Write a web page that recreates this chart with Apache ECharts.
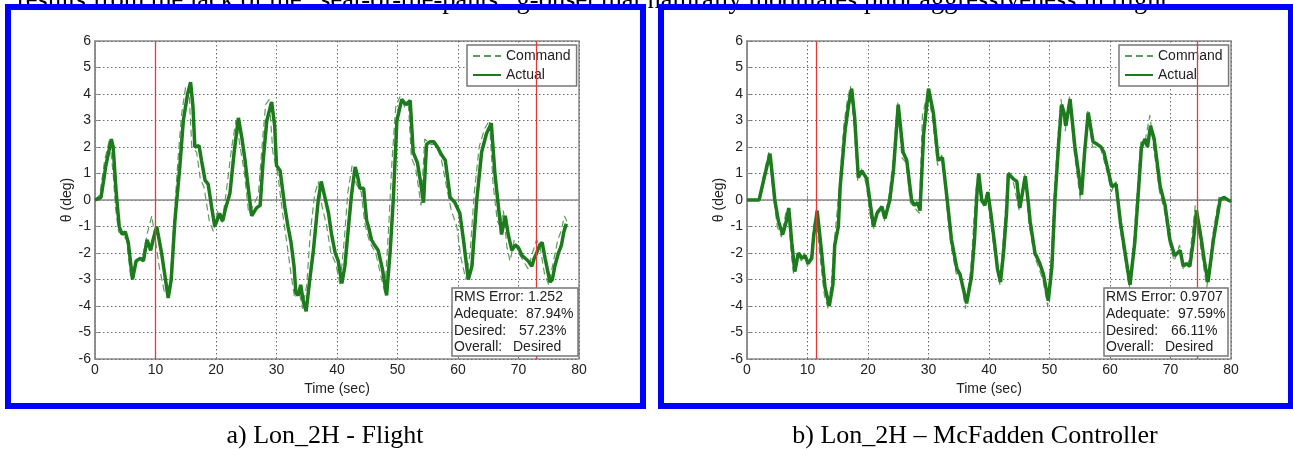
<!DOCTYPE html>
<html>
<head>
<meta charset="utf-8">
<script src="https://cdn.jsdelivr.net/npm/echarts@6/dist/echarts.min.js"></script>
<style>
html,body{margin:0;padding:0;background:#fff;}
#chart{width:1293px;height:449px;}
</style>
</head>
<body>
<div id="chart"></div>
<script>
// ---------- DATA ----------
const yTicks = [-6, -5, -4, -3, -2, -1, 0, 1, 2, 3, 4, 5, 6];
const xTicks = [0, 10, 20, 30, 40, 50, 60, 70, 80];

// Panel a) Lon_2H - Flight
const aActualT = [0,1.0,1.8,2.7,3.0,3.5,4.0,4.5,5.0,5.5,6.2,6.8,7.5,8.0,8.6,9.2,9.6,10.2,11.0,12.1,12.6,13.2,14.0,14.6,15.3,15.8,16.2,16.5,17.2,17.6,18.2,18.7,19.3,19.8,20.6,21.1,21.6,22.3,23.0,23.7,24.3,24.8,25.3,25.9,26.7,27.3,27.8,28.4,29.2,29.7,30.0,30.6,31.4,31.9,32.4,32.9,33.2,33.6,34.0,34.4,34.9,35.5,36.1,36.9,37.4,37.8,38.2,38.6,39.1,39.7,40.2,40.8,41.3,41.9,42.4,43.0,43.4,43.8,44.4,44.9,45.2,45.7,46.2,46.8,47.5,48.2,48.8,49.3,49.9,50.7,51.4,52.1,52.6,53.3,53.8,54.3,54.8,55.4,56.0,56.6,57.3,57.9,58.7,59.5,60.3,60.9,61.7,62.3,63.1,63.9,64.7,65.5,66.1,66.7,67.2,67.8,68.3,68.9,69.5,70.0,70.6,71.1,71.6,72.2,72.6,73.0,73.5,73.9,74.4,75.2,75.6,76.0,76.6,77.1,77.5,77.9];
const aActualV = [0,0.1,1.3,2.3,2.0,0.3,-1.0,-1.3,-1.2,-1.6,-3.0,-2.3,-2.2,-2.3,-1.5,-1.9,-1.5,-1.0,-2.0,-3.7,-3.0,-0.8,1.2,3.0,4.0,4.45,3.5,2.0,2.05,1.5,0.74,0.6,-0.3,-1.0,-0.5,-0.8,-0.3,0.25,1.8,3.1,2.3,1.5,0.5,-0.6,-0.3,-0.2,1.5,3.0,3.7,2.8,1.3,1.1,-0.3,-1.0,-1.6,-2.5,-3.5,-3.6,-3.2,-3.8,-4.2,-3.0,-1.9,0.0,0.7,0.3,-0.1,-0.5,-1.3,-2.0,-2.3,-3.15,-2.5,-1.0,0.2,1.25,0.9,0.44,0.44,-0.77,-1.0,-1.5,-1.7,-1.9,-2.6,-3.6,-1.9,0.0,3.0,3.8,3.6,3.75,1.8,1.4,0.7,-0.1,2.1,2.2,2.2,2.0,1.7,1.5,0.1,-0.1,-0.5,-1.5,-3.0,-2.5,0.0,1.8,2.5,2.9,1.0,-0.3,-1.3,-0.6,-1.3,-1.9,-1.7,-1.8,-2.1,-2.2,-2.3,-2.5,-2.2,-2.0,-1.7,-1.6,-2.2,-3.1,-3.0,-2.5,-2.0,-1.7,-1.2,-0.9];
const aCommandT = [0,0.8,1.6,2.4,3.0,3.4,3.9,4.5,5.2,5.9,6.5,7.3,8.0,8.7,9.4,9.9,10.6,11.5,12.4,13.0,13.7,14.3,15.0,15.5,16.0,16.8,17.4,18.0,18.9,19.6,20.3,21.0,21.8,22.6,23.3,24.0,24.7,25.4,26.2,27.0,27.6,28.2,28.8,29.4,30.2,31.0,31.7,32.4,33.0,33.7,34.3,35.0,35.6,36.3,36.9,37.5,38.3,39.0,39.8,40.5,41.2,41.8,42.5,43.2,44.0,44.6,45.4,46.4,47.2,47.9,48.5,49.1,49.7,50.4,51.2,51.8,52.3,53.0,53.9,54.5,55.5,56.3,57.2,58.1,58.9,59.8,60.5,61.3,62.0,62.7,63.5,64.4,65.2,65.8,66.5,67.0,67.5,68.1,68.6,69.3,70.0,70.8,71.6,72.3,73.0,73.6,74.3,75.0,75.7,76.5,77.0,77.6,78.0];
const aCommandV = [0,0.2,1.5,2.3,1.0,-0.3,-1.2,-1.3,-1.5,-2.9,-2.4,-2.2,-2.0,-1.2,-0.6,-1.4,-2.5,-3.5,-3.2,-1.0,1.5,3.2,4.3,4.3,2.0,1.8,0.8,0.5,-0.8,-1.2,-0.4,-0.9,0.5,2.0,3.0,2.0,1.0,-0.5,-0.2,0.2,2.0,3.6,3.8,1.8,1.0,-0.5,-1.6,-2.8,-3.7,-3.4,-4.1,-3.2,-1.2,0.2,0.7,-0.2,-1.0,-2.0,-2.4,-3.2,-1.5,0.3,1.3,0.6,0.3,-0.9,-1.6,-2.0,-2.8,-3.5,-1.2,1.5,3.5,3.9,3.5,3.6,1.6,1.2,-0.2,2.3,2.1,2.1,1.6,0.5,-0.4,-1.0,-2.2,-3.0,-2.0,0.3,2.0,2.7,3.0,0.6,-0.8,-1.0,-0.4,-1.8,-2.3,-1.5,-2.0,-2.3,-2.6,-2.0,-1.5,-1.8,-2.8,-3.2,-2.4,-1.5,-1.2,-0.6,-0.8];
const aMarkers = [10, 73];
const aStats = [["RMS Error: 1.252", ""], ["Adequate:", "87.94%"], ["Desired:", "57.23%"], ["Overall:", "Desired"]];
const aCaption = "a) Lon_2H - Flight";

// Panel b) Lon_2H – McFadden Controller
const bActualT = [0,2.0,2.8,3.8,4.2,4.6,5.2,5.9,6.5,6.9,7.4,7.9,8.5,9.1,9.6,10.1,10.7,11.0,11.6,12.3,12.9,13.6,14.2,14.5,15.1,15.4,16.2,16.8,17.3,17.8,18.4,19.0,19.8,20.6,20.9,21.5,22.3,22.8,23.6,24.2,25.0,25.8,26.4,27.2,27.7,28.2,28.6,29.2,30.0,30.8,31.6,32.3,33.0,33.8,34.7,35.2,36.3,37.1,37.6,38.0,38.3,38.8,39.3,39.8,40.3,40.9,41.4,41.9,42.4,42.9,43.2,43.6,44.0,44.6,45.1,46.0,46.5,46.8,47.6,48.4,49.0,49.8,50.4,50.9,51.5,52.0,52.4,52.7,53.4,54.2,55.3,55.8,56.4,57.2,57.9,58.5,59.0,59.7,60.3,61.0,61.7,62.5,63.3,64.1,64.6,65.2,65.8,66.2,66.7,67.3,67.8,68.3,69.1,69.9,70.7,71.6,72.1,72.6,73.2,73.8,74.3,75.1,75.6,76.2,77.1,78.2,78.8,79.5,80.0];
const bActualV = [0,0,0.8,1.75,0.9,0,-0.8,-1.3,-0.8,-0.3,-1.6,-2.7,-2.0,-2.2,-2.1,-2.4,-2.2,-1.4,-0.4,-1.9,-3.3,-4.0,-3.2,-1.7,-1.0,0.5,2.6,3.6,4.2,3.1,0.85,1.1,0.8,-0.5,-1.0,-0.5,-0.25,-0.7,0.0,1.1,3.6,1.8,1.5,0.0,-0.2,-0.1,-0.4,2.5,4.2,3.3,1.5,1.6,0.2,-1.5,-2.6,-2.8,-3.9,-2.9,-1.5,0.2,1.0,0.0,-0.2,0.3,-0.5,-1.6,-2.6,-3.1,-2.0,-0.5,1.0,0.9,0.8,0.7,-0.3,0.9,-0.1,-0.8,-2.0,-2.4,-2.8,-3.8,-2.5,0.0,2.1,3.6,3.3,2.8,3.8,2.0,0.2,1.8,3.3,2.2,2.1,2.0,1.8,1.1,0.5,0.6,-0.8,-2.0,-3.2,-1.6,0.0,2.0,2.3,2.0,2.8,2.3,1.4,0.5,-0.2,-1.5,-2.1,-1.9,-2.5,-2.4,-2.5,-1.5,-0.4,-1.5,-2.3,-3.1,-1.5,0.0,0.1,0.0,-0.05];
const bCommandT = [0,2.0,2.7,3.6,4.4,5.0,5.7,6.4,6.8,7.3,7.7,8.3,9.0,9.5,10.0,10.6,11.0,11.4,12.1,12.8,13.4,14.0,14.5,15.2,16.0,16.6,17.1,17.7,18.3,18.9,19.7,20.5,21.0,21.5,22.2,22.7,23.5,24.1,24.9,25.6,26.3,27.0,27.7,28.5,29.0,29.9,30.7,31.5,32.2,32.9,33.7,34.6,35.2,36.1,37.0,37.8,38.2,38.7,39.7,40.8,41.8,42.7,43.1,44.0,45.0,45.9,46.6,47.5,48.9,49.7,50.3,50.8,51.4,51.9,52.6,53.3,54.1,55.1,56.3,57.1,58.4,59.6,60.2,61.0,61.6,63.2,64.0,65.1,65.7,66.6,67.2,68.2,69.0,69.8,70.6,71.5,72.1,73.1,74.1,75.0,76.0,77.0,78.0,80.0];
const bCommandV = [0,0,0.9,1.8,0.1,-1.0,-1.4,-0.5,-0.4,-2.0,-2.8,-2.0,-2.3,-2.0,-2.5,-2.1,-1.0,-0.6,-2.2,-3.6,-4.1,-3.0,-1.4,0.3,2.8,3.8,4.3,2.8,0.7,1.2,0.6,-0.8,-1.1,-0.4,-0.3,-0.8,0.2,1.4,3.7,1.6,1.4,-0.1,-0.3,-0.5,3.2,4.1,3.0,1.3,1.7,0.0,-1.7,-2.8,-2.7,-4.1,-2.6,0.3,1.0,-0.1,0.2,-1.8,-3.2,-0.4,1.1,0.7,-0.4,1.0,-0.9,-2.1,-3.0,-4.0,-2.2,0.3,2.4,3.8,2.6,3.9,1.8,0.0,3.4,2.0,2.0,1.0,0.3,0.7,-1.0,-3.3,-1.3,2.2,2.1,3.2,2.0,0.3,-0.4,-1.6,-2.3,-1.7,-2.6,-2.3,-0.2,-1.8,-3.3,-1.3,0.1,0.0];
const bMarkers = [11.5, 74.4];
const bStats = [["RMS Error: 0.9707", ""], ["Adequate:", "97.59%"], ["Desired:", "66.11%"], ["Overall:", "Desired"]];
const bCaption = "b) Lon_2H \u2013 McFadden Controller";

const topText = "results from the lack of the \u201Cseat-of-the-pants\u201D g-onset that naturally modulates pilot aggressiveness in flight.";
const seriesNames = ["Command", "Actual"];
const yAxisTitle = "\u03B8 (deg)";
const xAxisTitle = "Time (sec)";

// ---------- BUILD ----------
const zip = (t, v) => t.map((x, i) => [x, v[i]]);
const SANS = "'Liberation Sans', Arial, sans-serif";
const SERIF = "'Liberation Serif', 'Times New Roman', serif";
const GREEN = '#1d7a1d';
const CMD = '#5a9e5a';

const grids = [
  { left: 95, top: 41, width: 484, height: 318 },
  { left: 747, top: 41, width: 484, height: 318 }
];

function xAx(i) {
  return {
    type: 'value', gridIndex: i, min: 0, max: 80, interval: 10,
    name: xAxisTitle, nameLocation: 'middle', nameGap: 21,
    nameTextStyle: { fontFamily: SANS, fontSize: 14, color: '#222' },
    axisLine: { show: true, lineStyle: { color: '#8a8a8a', width: 1.5 } },
    axisTick: { show: true, inside: true, length: 4, lineStyle: { color: '#8a8a8a' } },
    axisLabel: { margin: 4, fontFamily: SANS, fontSize: 14, color: '#222',
      formatter: v => xTicks.includes(v) ? String(v) : '' },
    splitLine: { show: true, lineStyle: { color: '#6a6a6a', width: 1, type: [1.5, 2.5] } }
  };
}
function yAx(i) {
  return {
    type: 'value', gridIndex: i, min: -6, max: 6, interval: 1,
    name: yAxisTitle, nameLocation: 'middle', nameGap: 21, nameRotate: 90,
    nameTextStyle: { fontFamily: SANS, fontSize: 14, color: '#222' },
    axisLine: { show: true, lineStyle: { color: '#8a8a8a', width: 1.5 } },
    axisTick: { show: true, inside: true, length: 4, lineStyle: { color: '#8a8a8a' } },
    axisLabel: { margin: 4, fontFamily: SANS, fontSize: 14, color: '#222',
      formatter: v => yTicks.includes(v) ? String(v) : '' },
    splitLine: { show: true, lineStyle: { color: '#6a6a6a', width: 1, type: [1.5, 2.5] } }
  };
}

function panelSeries(i, cmdT, cmdV, actT, actV, markers) {
  return [
    {
      name: seriesNames[0], type: 'line', xAxisIndex: i, yAxisIndex: i,
      data: zip(cmdT, cmdV), symbol: 'none', z: 2,
      lineStyle: { color: CMD, width: 1.2, type: [7, 4] }, itemStyle: { color: CMD },
      markLine: {
        silent: true, symbol: ['none', 'none'], label: { show: false },
        lineStyle: { color: '#e23a3a', width: 1.3, type: 'solid', opacity: 1 },
        data: markers.map(m => ({ xAxis: m }))
      }
    },
    {
      name: seriesNames[1], type: 'line', xAxisIndex: i, yAxisIndex: i,
      data: zip(actT, actV), symbol: 'none', z: 3,
      lineStyle: { color: GREEN, width: 3.5 }, itemStyle: { color: GREEN }
    }
  ];
}

function legendAt(left) {
  return {
    data: seriesNames, left: left, top: 45, orient: 'vertical',
    backgroundColor: '#fff', borderColor: '#777', borderWidth: 1.5,
    padding: [4, 6, 4, 5], itemGap: 5, itemWidth: 28, itemHeight: 14,
    selectedMode: false,
    itemStyle: { opacity: 0, borderWidth: 0 },
    textStyle: { fontFamily: SANS, fontSize: 14, color: '#222' }
  };
}

function statsBox(x, y, w, h, rows, valX) {
  const lineY = [297, 314.5, 331, 347];
  const children = [{
    type: 'rect', shape: { x: x, y: y, width: w, height: h },
    style: { fill: '#fff', stroke: '#777', lineWidth: 1.5 }, z: 10
  }];
  rows.forEach((r, k) => {
    children.push({ type: 'text', x: x + 2, y: lineY[k], z: 11,
      style: { text: r[0], font: '14px ' + SANS, fill: '#222', textVerticalAlign: 'middle' } });
    if (r[1]) children.push({ type: 'text', x: valX[k], y: lineY[k], z: 11,
      style: { text: r[1], font: '14px ' + SANS, fill: '#222', textVerticalAlign: 'middle' } });
  });
  return children;
}

const graphics = [
  { type: 'text', x: 17, y: -12, z: 1,
    style: { text: topText, font: '26.5px ' + SERIF, fill: '#000', textVerticalAlign: 'top' } },
  { type: 'rect', shape: { x: 8, y: 7, width: 635, height: 399 },
    style: { fill: 'none', stroke: '#0000fe', lineWidth: 6 }, z: 20 },
  { type: 'rect', shape: { x: 661, y: 7, width: 630, height: 399 },
    style: { fill: 'none', stroke: '#0000fe', lineWidth: 6 }, z: 20 },
  { type: 'text', x: 325, y: 423, z: 1,
    style: { text: aCaption, font: '26px ' + SERIF, fill: '#000', textAlign: 'center', textVerticalAlign: 'top' } },
  { type: 'text', x: 975, y: 423, z: 1,
    style: { text: bCaption, font: '26px ' + SERIF, fill: '#000', textAlign: 'center', textVerticalAlign: 'top' } }
].concat(statsBox(452, 288, 126, 68, aStats, [0, 526, 519, 513]))
 .concat(statsBox(1104, 288, 124, 68, bStats, [0, 1178, 1171, 1165]));

const chart = echarts.init(document.getElementById('chart'), null, { renderer: 'canvas' });
chart.setOption({
  animation: false,
  backgroundColor: '#fff',
  grid: grids.map(g => Object.assign({ show: true, borderColor: '#8a8a8a', borderWidth: 1.5, backgroundColor: '#fff' }, g)),
  xAxis: [xAx(0), xAx(1)],
  yAxis: [yAx(0), yAx(1)],
  legend: [legendAt(467), legendAt(1119)],
  series: panelSeries(0, aCommandT, aCommandV, aActualT, aActualV, aMarkers)
    .concat(panelSeries(1, bCommandT, bCommandV, bActualT, bActualV, bMarkers)),
  graphic: graphics
});
</script>
</body>
</html>
